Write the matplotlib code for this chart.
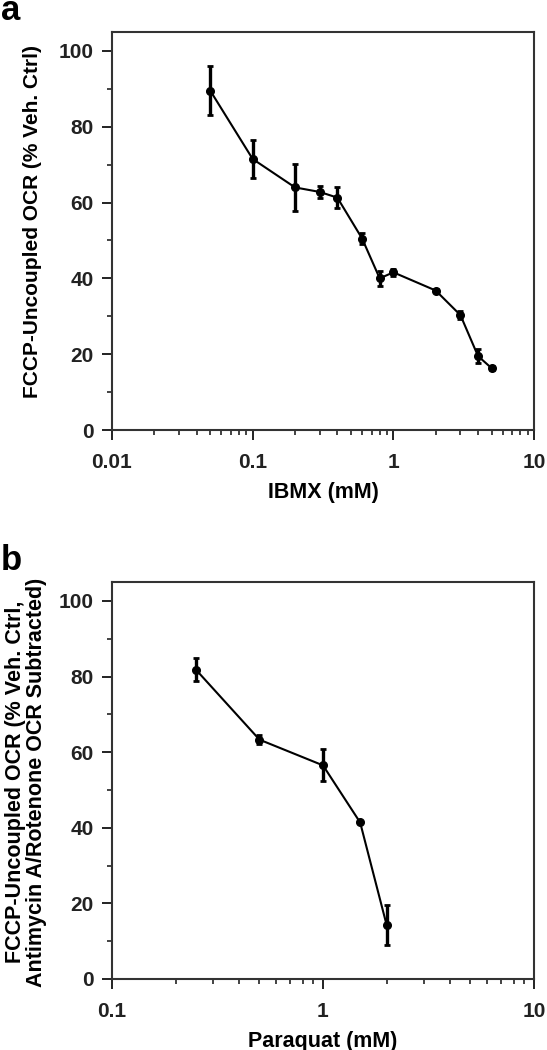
import matplotlib
matplotlib.use("Agg")
import matplotlib.pyplot as plt
import numpy as np
from matplotlib.ticker import LogLocator, FixedLocator, NullFormatter

plt.rcParams['font.family'] = ['Liberation Sans', 'DejaVu Sans']
plt.rcParams['font.weight'] = 'bold'

# Panel a data
ibmx_conc = [0.05, 0.1, 0.2, 0.3, 0.4, 0.6, 0.8, 1.0, 2.0, 3.0, 4.0, 5.0]
ibmx_ocr = [89.5, 71.5, 64.0, 62.8, 61.3, 50.5, 40.0, 41.6, 36.8, 30.3, 19.5, 16.3]
ibmx_err = [6.5, 5.0, 6.3, 1.5, 2.8, 1.5, 2.0, 1.0, 0.5, 1.0, 1.8, 0.5]

# Panel b data
pq_conc = [0.25, 0.5, 1.0, 1.5, 2.0]
pq_ocr = [81.8, 63.3, 56.5, 41.4, 14.4]
pq_err = [3.0, 1.2, 4.2, 0.0, 5.3]

fig = plt.figure(figsize=(5.47, 10.5), dpi=100)
W, H = 547, 1050

def add_ax(left, top, right, bottom):
    return fig.add_axes([left / W, 1 - bottom / H, (right - left) / W, (bottom - top) / H])

ax1 = add_ax(112, 32, 534, 430)
ax2 = add_ax(112, 582, 534, 979)

def style(ax, xlim, xlabel):
    ax.set_xscale('log')
    ax.set_xlim(*xlim)
    ax.set_ylim(0, 105)
    ax.set_yticks([0, 20, 40, 60, 80, 100])
    ax.yaxis.set_minor_locator(FixedLocator([10, 30, 50, 70, 90]))
    ax.xaxis.set_major_locator(LogLocator(base=10, numticks=10))
    ax.xaxis.set_minor_locator(LogLocator(base=10, subs=np.arange(2, 10), numticks=20))
    ax.xaxis.set_minor_formatter(NullFormatter())
    ax.set_xticklabels([f"{t:g}" for t in ax.get_xticks()])
    for s in ax.spines.values():
        s.set_linewidth(1.5)
        s.set_color('#333333')
    ax.tick_params(which='major', direction='out', length=7, width=1.4, labelsize=15, colors='#222222')
    ax.tick_params(which='minor', direction='out', length=3.5, width=1.2, colors='#222222')
    ax.tick_params(axis='x', which='major', pad=9.5)
    ax.tick_params(axis='y', which='major', pad=6)
    ax.set_xlabel(xlabel, fontsize=15.5, fontweight='bold', labelpad=7)

ax1.errorbar(ibmx_conc, ibmx_ocr, yerr=ibmx_err, color='black', lw=1.5, marker='o', ms=5.5,
             elinewidth=2.4, capsize=2.5, capthick=2.0)
style(ax1, (0.01, 10), 'IBMX (mM)')

ax2.errorbar(pq_conc, pq_ocr, yerr=pq_err, color='black', lw=1.5, marker='o', ms=5.5,
             elinewidth=2.4, capsize=2.5, capthick=2.0)
style(ax2, (0.1, 10), 'Paraquat (mM)')

fig.text(33 / W, 1 - 222 / H, 'FCCP-Uncoupled OCR (% Veh. Ctrl)', rotation=90,
         fontsize=15, fontweight='bold', ha='center', va='center')
fig.text(26 / W, 1 - 782 / H,
         'FCCP-Uncoupled OCR (% Veh. Ctrl,\nAntimycin A/Rotenone OCR Subtracted)',
         rotation=90, fontsize=15.5, fontweight='bold', ha='center', va='center',
         multialignment='center', linespacing=1.0)

fig.text(1 / W, 1 - 20 / H, 'a', fontsize=25, fontweight='bold', ha='left', va='baseline')
fig.text(1 / W, 1 - 570 / H, 'b', fontsize=25, fontweight='bold', ha='left', va='baseline')

fig.savefig('out.png', dpi=100)
